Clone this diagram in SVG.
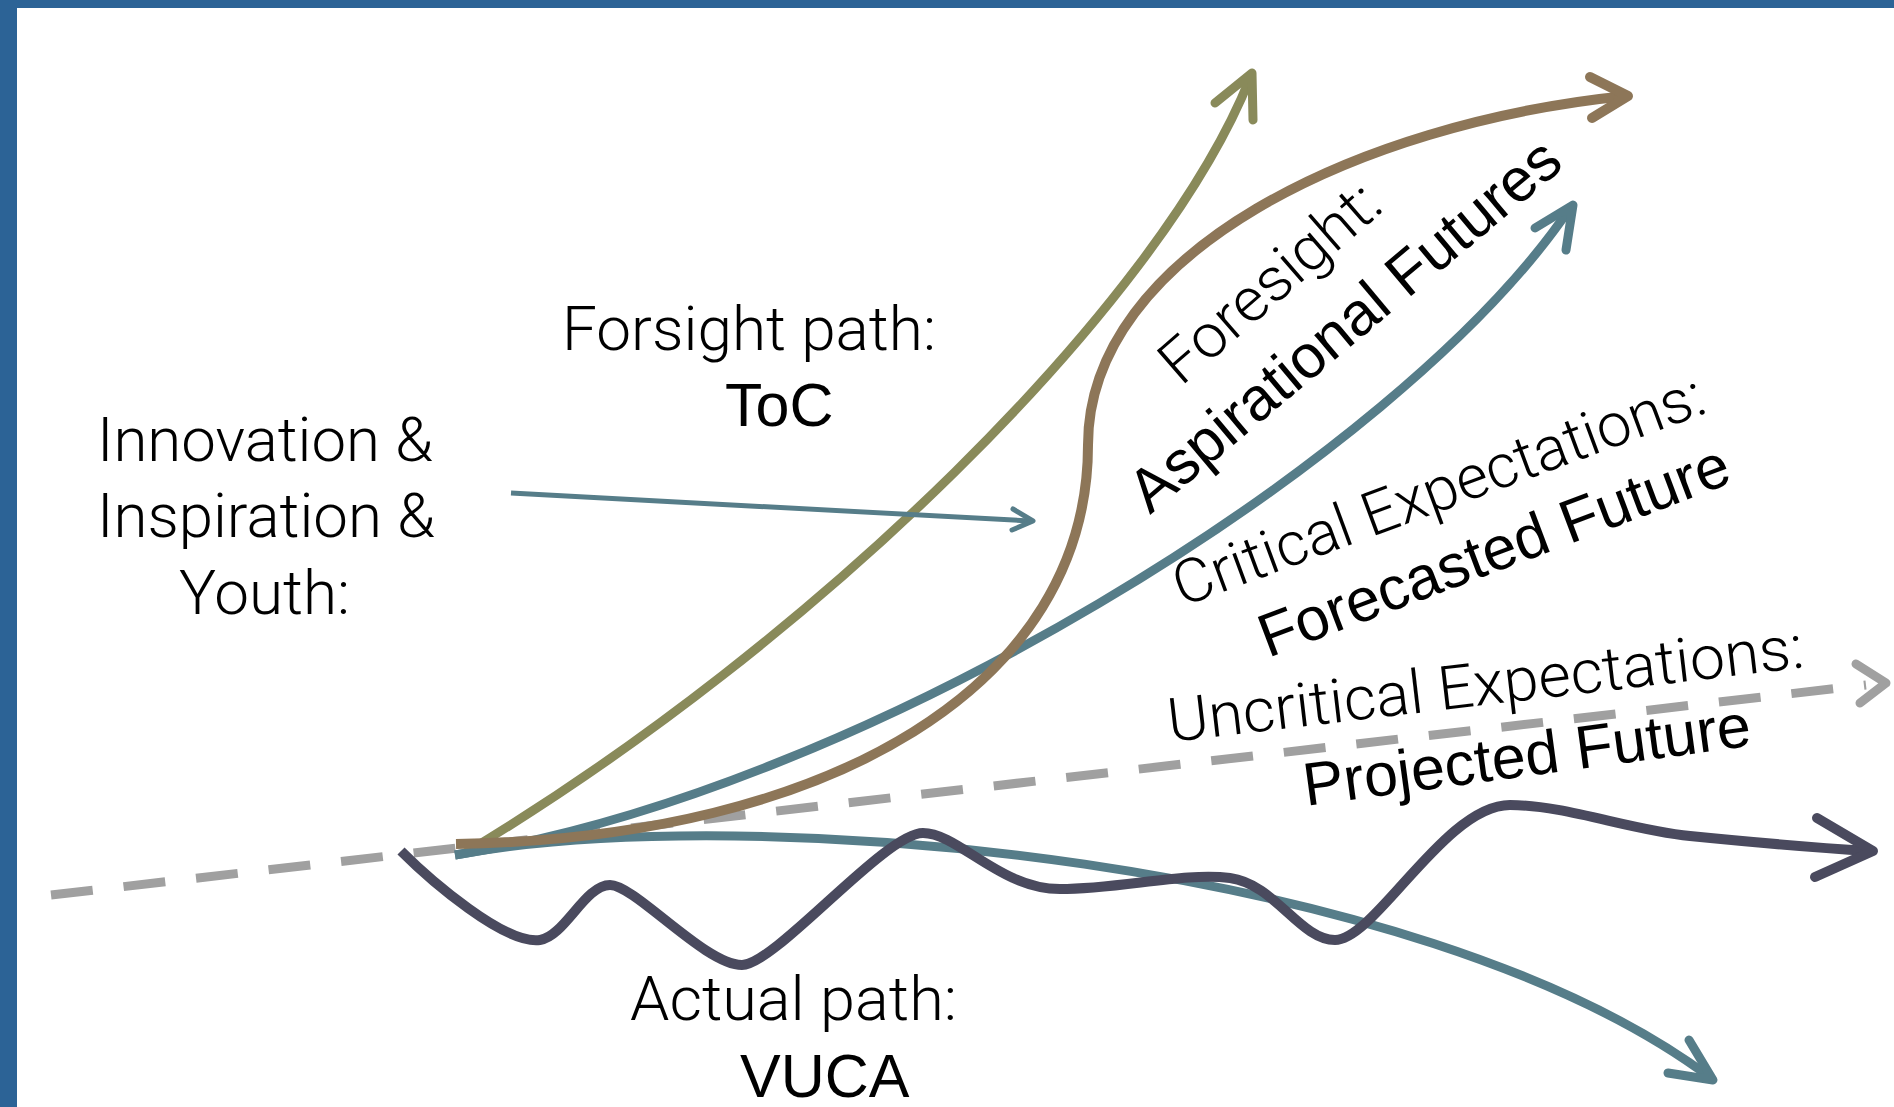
<svg xmlns="http://www.w3.org/2000/svg" width="1894" height="1107" viewBox="0 0 1894 1107">
<style>
.frame{fill:#2C6396}
.ln{fill:none;stroke-linejoin:round}
.hd{fill:none;stroke-linecap:round;stroke-linejoin:round}
.olive{stroke:#898A5A;stroke-width:9}
.brown{stroke:#8D7658;stroke-width:10}
.teal{stroke:#567D89;stroke-width:9}
.tealthin{stroke:#567D89;stroke-width:5}
.dark{stroke:#4A4A5E;stroke-width:10}
.dash{stroke:#A0A0A0;stroke-width:9;stroke-dasharray:42 31}
.dashhd{stroke:#A0A0A0;stroke-width:9}
.lt{font-family:Roboto,Lato,"Liberation Sans",sans-serif;font-weight:300;font-size:61px;fill:#000}
.rg{font-family:"Liberation Sans",Arial,sans-serif;font-weight:400;font-size:61px;fill:#000}
</style>
<rect class="frame" x="0" y="0" width="1894" height="8"/>
<rect class="frame" x="0" y="0" width="17" height="1107"/>
<g id="connectors">
  <path class="ln dash" d="M 51 895 L 1866 685"/>
  <polyline class="hd dashhd" points="1856,664 1886,683 1860,703"/>
  <path class="ln teal" d="M 455 855 C 750 800, 1420 860, 1711 1078"/>
  <polyline class="hd teal" points="1689,1040 1713,1080 1668,1073"/>
  <path class="ln dark" d="M 401 851 C 430 880, 505 945, 540 940 C 565 936, 585 885, 610 885 C 635 885, 705 965, 742 965 C 775 965, 885 833, 923 833 C 958 833, 1000 889, 1060 889 C 1120 889, 1185 872, 1230 878 C 1275 884, 1300 940, 1335 940 C 1375 940, 1445 805, 1510 805 C 1565 805, 1630 830, 1690 836 C 1750 842, 1820 848, 1870 851"/>
  <polyline class="hd dark" points="1817,818 1873,851 1815,877"/>
  <path class="ln olive" d="M 465 853 C 815 643, 1160 305, 1250 78"/>
  <polyline class="hd olive" points="1215,103 1252,73 1253,120"/>
  <path class="ln teal" d="M 455 855 C 855 795, 1400 460, 1570 208"/>
  <polyline class="hd teal" points="1535,228 1573,205 1566,250"/>
  <path class="ln brown" d="M 456 844 C 833 838, 1088 684, 1088 445 C 1088 253, 1358 123, 1626 96"/>
  <polyline class="hd brown" points="1590,77 1628,96 1592,118"/>
  <path class="ln tealthin" d="M 511 493 L 1030 521"/>
  <polyline class="hd tealthin" points="1013,509 1033,521 1012,530"/>
</g>
<g id="innovation">
  <text class="lt" x="97" y="461" textLength="336" lengthAdjust="spacingAndGlyphs">Innovation &amp;</text>
  <text class="lt" x="97" y="537" textLength="338" lengthAdjust="spacingAndGlyphs">Inspiration &amp;</text>
  <text class="lt" x="179" y="614" textLength="171" lengthAdjust="spacingAndGlyphs">Youth:</text>
</g>
<g id="foresight-path">
  <text class="lt" x="562" y="350" textLength="374" lengthAdjust="spacingAndGlyphs">Forsight path:</text>
  <text class="rg" x="725" y="426">ToC</text>
</g>
<g id="actual-path">
  <text class="lt" x="630" y="1020" textLength="327" lengthAdjust="spacingAndGlyphs">Actual path:</text>
  <text class="rg" x="740" y="1097">VUCA</text>
</g>
<g id="aspirational">
  <text class="lt" transform="translate(1181 387) rotate(-41)" textLength="271" lengthAdjust="spacingAndGlyphs">Foresight:</text>
  <text class="rg" transform="translate(1150 515) rotate(-40)">Aspirational Futures</text>
</g>
<g id="forecasted">
  <text class="lt" transform="translate(1182 607) rotate(-20.3)" textLength="562" lengthAdjust="spacingAndGlyphs">Critical Expectations:</text>
  <text class="rg" transform="translate(1268 658) rotate(-20.7)">Forecasted Future</text>
</g>
<g id="projected">
  <text class="lt" transform="translate(1170 742) rotate(-6.7)" textLength="640" lengthAdjust="spacingAndGlyphs">Uncritical Expectations:</text>
  <text class="rg" transform="translate(1306 806) rotate(-7.7)">Projected Future</text>
</g>
</svg>
